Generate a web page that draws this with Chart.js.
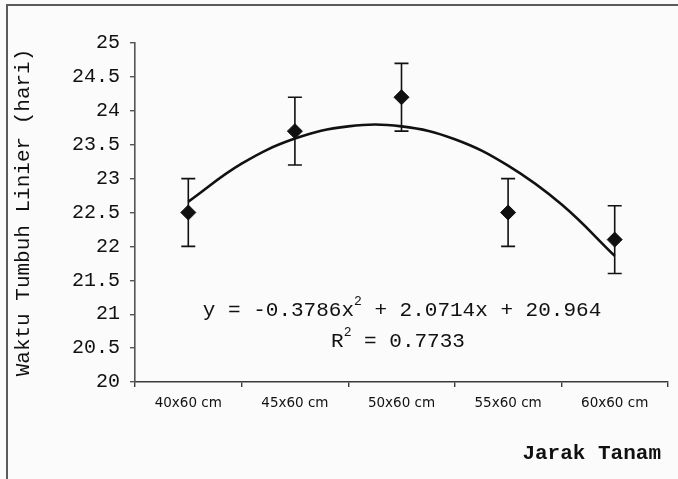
<!DOCTYPE html>
<html>
<head>
<meta charset="utf-8">
<script src="https://cdn.jsdelivr.net/npm/chart.js@4.4.1/dist/chart.umd.min.js"></script>
<style>
  html, body { margin: 0; padding: 0; background: #fbfbfb; overflow: hidden; }
  #wrap { position: relative; width: 678px; height: 479px; }
  #frame { position: absolute; left: 6px; top: 4px; width: 700px; height: 500px; border: 2px solid #5a5a5a; box-sizing: border-box; }
  canvas { position: absolute; left: 0; top: 0; }
</style>
</head>
<body>
<div id="wrap">
  <div id="frame"></div>
  <canvas id="c" width="678" height="479"></canvas>
</div>
<script>
// ---- data ----
const categories = ["40x60 cm", "45x60 cm", "50x60 cm", "55x60 cm", "60x60 cm"];
const meanValues = [22.5, 23.7, 24.2, 22.5, 22.1];
const errorValues = [0.5, 0.5, 0.5, 0.5, 0.5];
// trend line (polynomial), positions 1..5 = categories
const curveX = [1, 1.5, 2, 2.5, 3, 3.5, 4, 4.5, 5];
const curveY = [22.66, 23.22, 23.59, 23.77, 23.77, 23.58, 23.19, 22.62, 21.86];
const yTicks = { min: 20, max: 25, step: 0.5 };
const yTitle = "Waktu Tumbuh Linier (hari)";
const xTitle = "Jarak Tanam";
const eqParts = ["y = -0.3786x", "2", " + 2.0714x + 20.964"];
const r2Parts = ["R", "2", " = 0.7733"];

const MONO = "'Liberation Mono', 'Courier New', monospace";
const INK = "#111";

const errorBars = {
  id: 'errorBars',
  afterDatasetsDraw(chart) {
    const ctx = chart.ctx;
    const xs = chart.scales.x, ys = chart.scales.y;
    ctx.save();
    ctx.strokeStyle = INK;
    ctx.lineWidth = 1.6;
    meanValues.forEach((v, i) => {
      const px = xs.getPixelForValue(i);
      const top = ys.getPixelForValue(v + errorValues[i]);
      const bot = ys.getPixelForValue(v - errorValues[i]);
      const cap = 7;
      ctx.beginPath();
      ctx.moveTo(px, top); ctx.lineTo(px, bot);
      ctx.moveTo(px - cap, top); ctx.lineTo(px + cap, top);
      ctx.moveTo(px - cap, bot); ctx.lineTo(px + cap, bot);
      ctx.stroke();
    });
    ctx.restore();
  }
};

function drawSup(ctx, parts, x, y, size) {
  ctx.font = size + "px " + MONO;
  const w0 = ctx.measureText(parts[0]).width;
  ctx.font = Math.round(size * 0.62) + "px " + MONO;
  const w1 = ctx.measureText(parts[1]).width;
  ctx.font = size + "px " + MONO;
  const w2 = ctx.measureText(parts[2]).width;
  let sx = x - (w0 + w1 + w2) / 2;
  ctx.textAlign = 'left';
  ctx.textBaseline = 'middle';
  ctx.fillText(parts[0], sx, y);
  ctx.font = Math.round(size * 0.62) + "px " + MONO;
  ctx.fillText(parts[1], sx + w0, y - size * 0.38);
  ctx.font = size + "px " + MONO;
  ctx.fillText(parts[2], sx + w0 + w1, y);
}

const annotations = {
  id: 'annotations',
  afterDraw(chart) {
    const ctx = chart.ctx;
    ctx.save();
    ctx.fillStyle = INK;
    drawSup(ctx, eqParts, 402, 310, 21);
    drawSup(ctx, r2Parts, 398, 341, 21);
    ctx.font = "bold 21px " + MONO;
    ctx.textAlign = 'right';
    ctx.textBaseline = 'middle';
    ctx.fillText(xTitle, 661, 454);
    ctx.restore();
  }
};

new Chart(document.getElementById('c'), {
  type: 'line',
  data: {
    labels: categories,
    datasets: [
      {
        data: meanValues,
        xAxisID: 'x',
        showLine: false,
        pointStyle: 'rectRot',
        pointRadius: 7.5,
        pointHoverRadius: 7.5,
        pointBackgroundColor: INK,
        pointBorderColor: INK,
        pointBorderWidth: 1,
        order: 1
      },
      {
        data: curveX.map((x, i) => ({ x: x, y: curveY[i] })),
        xAxisID: 'xc',
        borderColor: INK,
        borderWidth: 2.6,
        pointRadius: 0,
        tension: 0.4,
        fill: false,
        order: 2
      }
    ]
  },
  options: {
    responsive: false,
    animation: false,
    devicePixelRatio: 1,
    layout: { padding: { left: 0, right: 10, top: 43, bottom: 0 } },
    plugins: { legend: { display: false }, tooltip: { enabled: false } },
    scales: {
      x: {
        type: 'category',
        offset: true,
        border: { display: true, color: '#3a3a3a', width: 1.6 },
        grid: { offset: true, drawOnChartArea: false, drawTicks: true, tickLength: 5, color: '#3a3a3a', lineWidth: 1.4 },
        ticks: { color: INK, padding: 8, font: { family: "'DejaVu Sans', sans-serif", size: 13.5 }, maxRotation: 0 },
        afterFit(s) { s.height = 97; }
      },
      xc: {
        type: 'linear',
        display: false,
        min: 0.5,
        max: 5.5
      },
      y: {
        type: 'linear',
        min: yTicks.min,
        max: yTicks.max,
        border: { display: true, color: '#555', width: 1.6 },
        grid: { drawOnChartArea: false, drawTicks: true, tickLength: 5, color: '#555', lineWidth: 1.4 },
        ticks: {
          stepSize: yTicks.step, color: INK, padding: 10, font: { family: MONO, size: 20 },
          callback: (v) => String(Number(v))
        },
        title: { display: true, text: yTitle, color: INK, font: { family: MONO, size: 21 }, padding: { top: 11, bottom: 0 } },
        afterFit(s) { s.width = 135; }
      }
    }
  },
  plugins: [errorBars, annotations]
});
</script>
</body>
</html>
